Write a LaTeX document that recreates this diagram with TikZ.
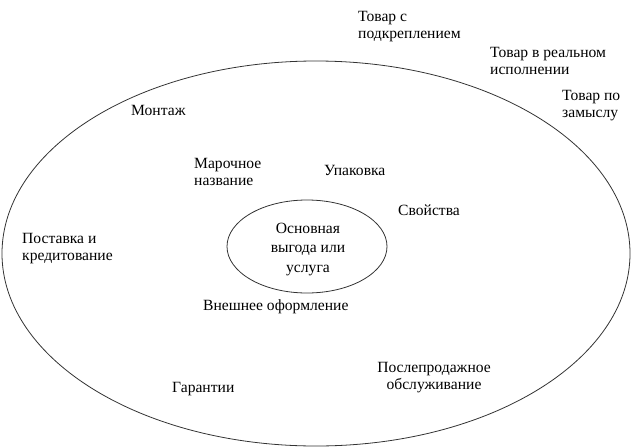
\documentclass[tikz,border=0pt]{standalone}
\usepackage{fontspec}
\setmainfont{Liberation Serif}
\usepackage{tikz}

\begin{document}
\begin{tikzpicture}[x=1pt, y=-1pt,
  lbl/.style={anchor=base west, inner sep=0pt, align=left,
    font=\fontsize{15.6}{17}\selectfont},
  clbl/.style={lbl, anchor=base, align=center}
  ]
  \useasboundingbox (0,0) rectangle (639,447);
  % ellipses
  \draw[line width=.8pt, black!80] (316,253.5) ellipse [x radius=314, y radius=192.5];
  \draw[line width=.8pt, black!80] (307,246.5) ellipse [x radius=80, y radius=46.5];
  % levels
  \node[lbl] (podkr) at (358,38) {Товар с\\подкреплением};
  \node[lbl] (realn) at (490,74) {Товар в реальном\\исполнении};
  \node[lbl] (zamysl) at (562,117) {Товар по\\замыслу};
  % elements
  \node[lbl] (montazh) at (131,115) {Монтаж};
  \node[lbl] (marka) at (194,185) {Марочное\\название};
  \node[lbl] (upak) at (324,175) {Упаковка};
  \node[lbl] (svoistva) at (398,215) {Свойства};
  \node[lbl] (postavka) at (22,260) {Поставка и\\кредитование};
  \node[clbl, font=\fontsize{15.6}{19.5}\selectfont] (osnova) at (308,272) {Основная\\выгода или\\услуга};
  \node[lbl] (oform) at (203,310) {Внешнее оформление};
  \node[clbl] (servis) at (434,389) {Послепродажное\\обслуживание};
  \node[lbl] (garantii) at (172,392) {Гарантии};
\end{tikzpicture}
\end{document}
